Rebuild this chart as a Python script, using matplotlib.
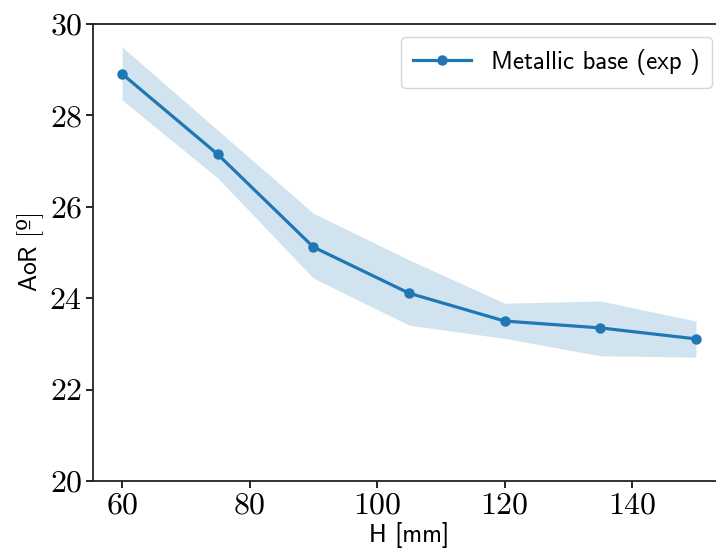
import matplotlib
matplotlib.use("Agg")
import matplotlib.pyplot as plt

# data
heights = [60, 75, 90, 105, 120, 135, 150]
aor_mean = [28.91, 27.15, 25.12, 24.11, 23.50, 23.35, 23.11]
aor_upper = [29.50, 27.68, 25.86, 24.84, 23.89, 23.94, 23.50]
aor_lower = [28.34, 26.63, 24.44, 23.41, 23.12, 22.74, 22.71]

plt.rcParams['axes.formatter.use_mathtext'] = True
plt.rcParams['mathtext.fontset'] = 'cm'
sans = ['cmss10', 'DejaVu Sans']

fig = plt.figure(figsize=(7.16, 5.51), dpi=100)
ax = fig.add_axes([93.3 / 716, 1 - 481 / 551, (724.7 - 93.3) / 716, (481 - 24) / 551])

ax.fill_between(heights, aor_lower, aor_upper, color='C0', alpha=0.2, lw=0)
ax.plot(heights, aor_mean, '-o', color='C0', lw=2.3, ms=6.5, label='Metallic base (exp )')

ax.set_xlim(55.5, 154.5)
ax.set_ylim(20, 30)
ax.set_xticks([60, 80, 100, 120, 140])
ax.set_yticks([20, 22, 24, 26, 28, 30])

for lbl in ax.get_xticklabels() + ax.get_yticklabels():
    lbl.set_family('cmr10')
    lbl.set_fontsize(23)
ax.tick_params(length=5, width=1.2, pad=3)

ax.set_xlabel('H [mm]', family=sans, fontsize=18, labelpad=2)
# the ordinal sign is missing from cmss10, so mix mathtext sans with a plain glyph
ax.set_ylabel(r'$\mathsf{AoR\ [}$º$\mathsf{]}$', family='DejaVu Sans', fontsize=18.5, labelpad=2)

for s in ax.spines.values():
    s.set_linewidth(1.3)
    s.set_color('#222222')

leg = ax.legend(loc='upper right', prop={'family': sans, 'size': 18},
                handlelength=2.3, borderpad=0.5, borderaxespad=0.5)

fig.savefig('out.png', dpi=100)
